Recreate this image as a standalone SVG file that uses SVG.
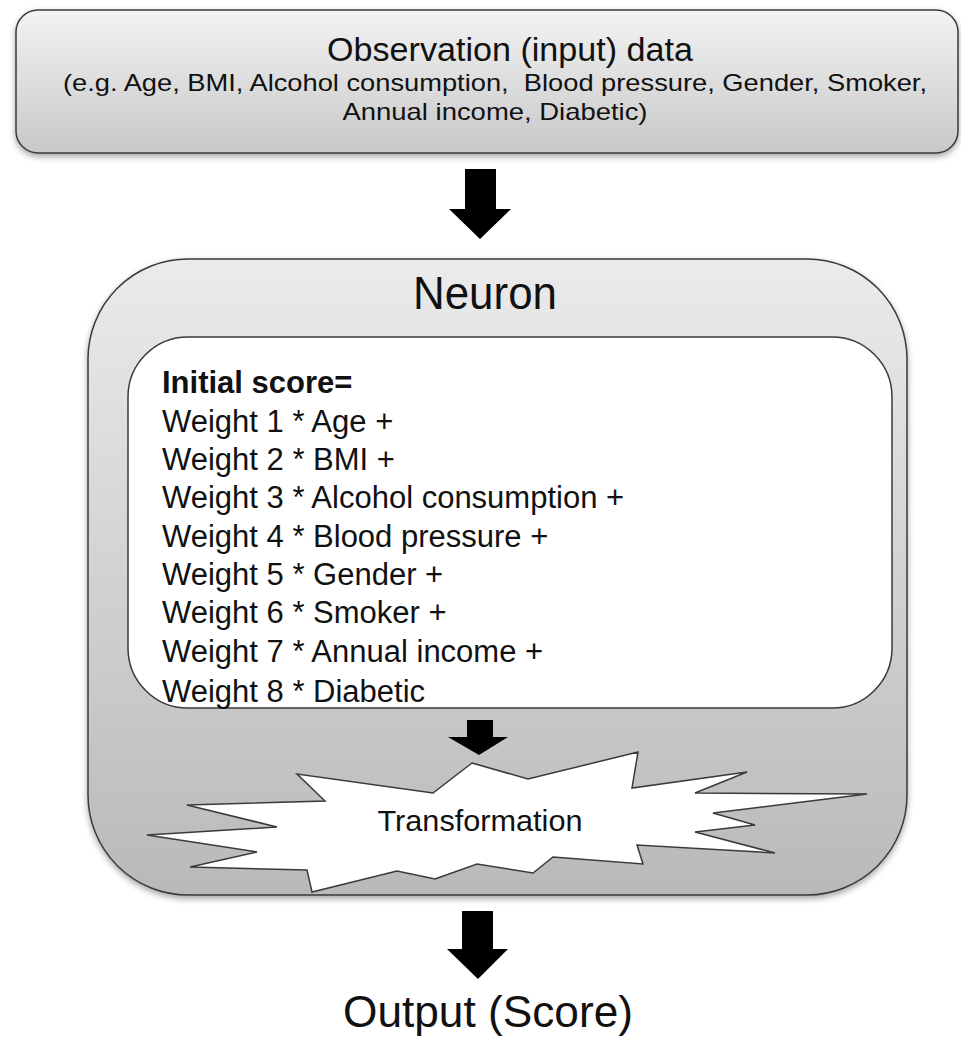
<svg xmlns="http://www.w3.org/2000/svg" width="961" height="1039" viewBox="0 0 961 1039">
<defs>
<style>
.t{font-family:"Liberation Sans",Arial,sans-serif;fill:#111}
.pre{white-space:pre}
.box{stroke:#3a3a3a;stroke-width:1.5}
.arrow{fill:#000}
</style>
<linearGradient id="gTop" x1="0" y1="0" x2="0" y2="1">
<stop offset="0" stop-color="#f3f3f3"/>
<stop offset="1" stop-color="#c8c8c8"/>
</linearGradient>
<linearGradient id="gNeuron" x1="0" y1="0" x2="0" y2="1">
<stop offset="0" stop-color="#ebebeb"/>
<stop offset="1" stop-color="#b9b9b9"/>
</linearGradient>
<filter id="sh" x="-5%" y="-5%" width="110%" height="115%">
<feDropShadow dx="0" dy="3" stdDeviation="3" flood-color="#000" flood-opacity="0.35"/>
</filter>
</defs>

<g id="node-input">
<rect class="box" x="16" y="10" width="942" height="143" rx="22" fill="url(#gTop)" filter="url(#sh)"/>
<text class="t" x="510" y="61" font-size="34" text-anchor="middle" textLength="366" lengthAdjust="spacingAndGlyphs">Observation (input) data</text>
<text class="t pre" x="495" y="91" font-size="24" text-anchor="middle" textLength="864" lengthAdjust="spacingAndGlyphs">(e.g. Age, BMI, Alcohol consumption,  Blood pressure, Gender, Smoker,</text>
<text class="t" x="495" y="120" font-size="24" text-anchor="middle" textLength="305" lengthAdjust="spacingAndGlyphs">Annual income, Diabetic)</text>
</g>

<g id="node-neuron">
<rect class="box" x="88" y="259" width="819" height="636" rx="100" fill="url(#gNeuron)" filter="url(#sh)"/>
<text class="t" x="485" y="309" font-size="46" text-anchor="middle" textLength="144" lengthAdjust="spacingAndGlyphs">Neuron</text>
</g>

<g id="node-score">
<rect class="box" x="128" y="337" width="764" height="371" rx="60" fill="#fff"/>
<g class="t pre" font-size="31">
<text x="162" y="393" font-weight="bold">Initial score=</text>
<text x="162" y="432">Weight 1 * Age +</text>
<text x="162" y="470">Weight 2 * BMI +</text>
<text x="162" y="508">Weight 3 * Alcohol  consumption +</text>
<text x="162" y="547">Weight 4 * Blood  pressure +</text>
<text x="162" y="585">Weight 5 * Gender +</text>
<text x="162" y="623">Weight 6 * Smoker +</text>
<text x="162" y="662">Weight 7 * Annual  income +</text>
<text x="162" y="702">Weight 8 * Diabetic</text>
</g>
</g>

<g id="node-transformation">
<polygon class="box" fill="#fff" stroke-width="1.3" points="472,763 528,779 638,752 632,788 747,772 695,793 867,794 713,813 755,825 695,832 775,853 637,845 643,864 553,857 533,873 477,864 435,879 397,871 312,892 307,870 190,867 257,852 147,835 277,827 187,805 325,801 297,774 433,793"/>
<text class="t" x="480" y="831" font-size="30" text-anchor="middle" textLength="205" lengthAdjust="spacingAndGlyphs">Transformation</text>
</g>

<g id="node-output">
<text class="t" x="488" y="1027" font-size="44" text-anchor="middle" textLength="290" lengthAdjust="spacingAndGlyphs">Output (Score)</text>
</g>

<g id="connectors">
<polygon class="arrow" points="465,169 496,169 496,209 511,209 480,239 449,209 465,209"/>
<polygon class="arrow" points="467,720 493,720 493,737 508,737 479,755 448,737 467,737"/>
<polygon class="arrow" points="462,911 493,911 493,949 508,949 478,979 447,949 462,949"/>
</g>
</svg>
